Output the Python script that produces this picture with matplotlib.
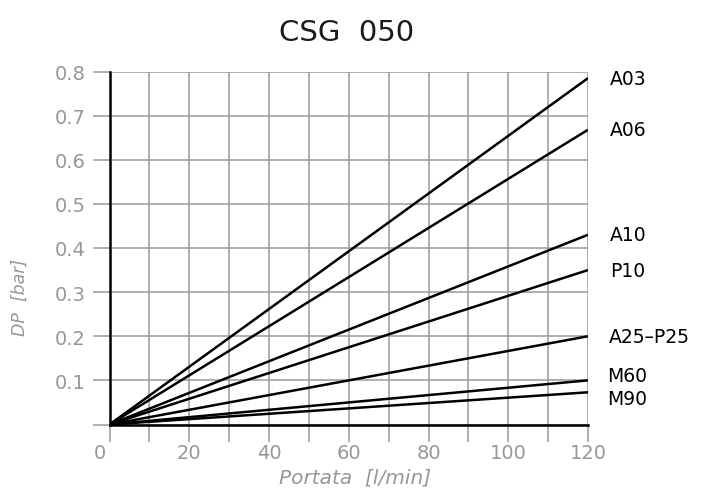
import matplotlib
matplotlib.use("Agg")
import matplotlib.pyplot as plt

# Data
series_names = ["A03", "A06", "A10", "P10", "A25\u2013P25", "M60", "M90"]
flow_points = [0, 120]
dp_at_120 = [0.785, 0.668, 0.43, 0.35, 0.2, 0.1, 0.073]
label_y = [0.785, 0.668, 0.43, 0.35, 0.2, 0.11, 0.058]
x_ticks = [0, 20, 40, 60, 80, 100, 120]
y_ticks = [0.1, 0.2, 0.3, 0.4, 0.5, 0.6, 0.7, 0.8]
title = "CSG  050"
xlabel = "Portata  [l/min]"
ylabel = "DP  [bar]"

plt.rcParams['font.family'] = ['DejaVu Sans']
fig = plt.figure(figsize=(7.02, 4.89), dpi=100)
L, R, T, B = 109.5, 588.0, 72.5, 425.5
ax = fig.add_axes([L/702, 1-B/489, (R-L)/702, (B-T)/489])
W = R - L
H = B - T

grey = "#979797"
gridc = "#9a9a9a"
ax.set_xlim(0, 120)
ax.set_ylim(0, 0.8)
ax.set_xticks(range(0, 121, 10))
ax.set_yticks([i/10 for i in range(0, 9)])
ax.grid(True, color=gridc, lw=1.1)
ax.set_axisbelow(True)

for name, v in zip(series_names, dp_at_120):
    ax.plot(flow_points, [0, v * flow_points[1] / 120], color="black", lw=1.8,
            solid_capstyle="butt", zorder=3)

for name, ly in zip(series_names, label_y):
    xpx = 607.5 if name.startswith("M") else (609 if "\u2013" in name else 610)
    ax.text((xpx - L) / W, ly, name,
            transform=ax.get_yaxis_transform(), ha="left", va="center",
            fontsize=13.5, color="black")

for s in ["top", "right"]:
    ax.spines[s].set_visible(False)
ax.spines["left"].set_linewidth(1.8)
ax.spines["bottom"].set_linewidth(1.8)
ax.spines["left"].set_zorder(4)
ax.spines["bottom"].set_zorder(4)

ax.tick_params(axis="both", length=12, width=1.1, color=gridc, labelcolor=grey,
               labelsize=14)
ax.set_xticklabels(["" for _ in range(13)])
ax.set_yticklabels(["" if t == 0 else f"{t/10:.1f}" for t in range(0, 9)])
ax.tick_params(axis="y", pad=5)

for xt in x_ticks:
    xx = xt if xt != 0 else -2.3
    ax.text(xx, -(444 - B) / H * 0.8, str(xt), ha="center", va="top", fontsize=14, color=grey)

fig.text(355/702, 1-478/489, xlabel, ha="center", va="center",
         fontsize=14.5, color=grey, style="italic")
fig.text(20/702, 1-297/489, ylabel, rotation=90, ha="center", va="center",
         fontsize=12.5, color=grey, style="italic")
fig.text(347/702, 1-33/489, title, ha="center", va="center", fontsize=21, color="#1a1a1a")

fig.savefig("out.png", dpi=100)
